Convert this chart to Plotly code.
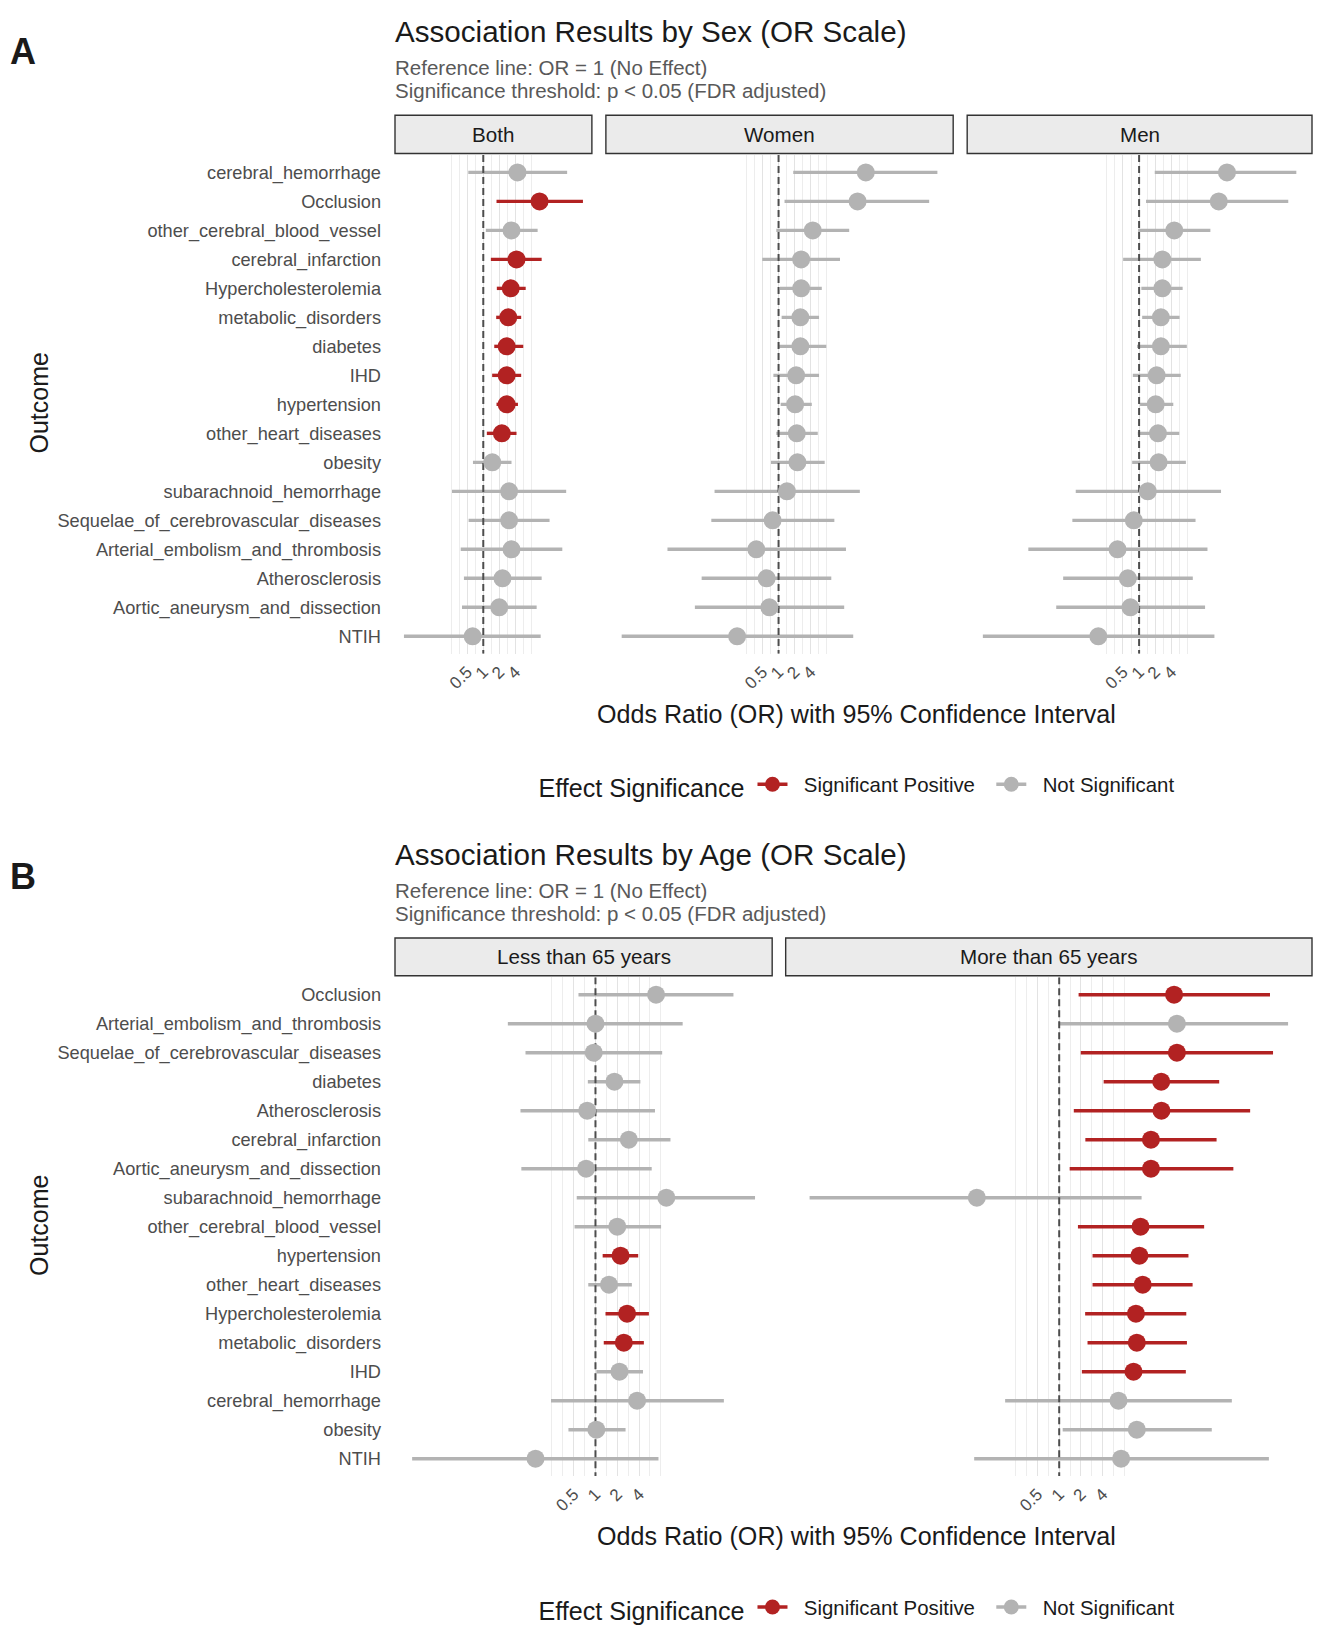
import math
import plotly.graph_objects as go

W, H = 1325, 1645
FONT = "Liberation Sans"
RED = "#B22222"
GREY = "#B3B3B3"

# ---------------- Data: estimates and 95% CI on the log2(OR) scale ----
A_outcomes = ["cerebral_hemorrhage", "Occlusion", "other_cerebral_blood_vessel", "cerebral_infarction",
              "Hypercholesterolemia", "metabolic_disorders", "diabetes", "IHD", "hypertension",
              "other_heart_diseases", "obesity", "subarachnoid_hemorrhage",
              "Sequelae_of_cerebrovascular_diseases", "Arterial_embolism_and_thrombosis",
              "Atherosclerosis", "Aortic_aneurysm_and_dissection", "NTIH"]
A_strips = ["Both", "Women", "Men"]

both_est = [2.12, 3.49, 1.75, 2.06, 1.70, 1.55, 1.45, 1.45, 1.45, 1.15, 0.56, 1.60, 1.60, 1.75, 1.19, 0.99, -0.66]
both_lo = [-0.93, 0.82, 0.16, 0.47, 0.84, 0.80, 0.68, 0.55, 0.82, 0.22, -0.64, -1.94, -0.91, -1.40, -1.20, -1.32, -4.92]
both_hi = [5.20, 6.18, 3.37, 3.62, 2.63, 2.35, 2.48, 2.35, 2.15, 2.06, 1.75, 5.14, 4.11, 4.90, 3.62, 3.31, 3.56]
both_sig = [0, 1, 0, 1, 1, 1, 1, 1, 1, 1, 0, 0, 0, 0, 0, 0, 0]

women_est = [5.41, 4.90, 2.12, 1.40, 1.40, 1.35, 1.35, 1.09, 1.03, 1.13, 1.17, 0.52, -0.37, -1.38, -0.74, -0.57, -2.57]
women_lo = [0.91, 0.37, -0.14, -1.01, 0.09, 0.19, 0.00, -0.32, 0.13, -0.14, -0.47, -3.97, -4.17, -6.89, -4.77, -5.19, -9.73]
women_hi = [9.85, 9.34, 4.38, 3.81, 2.68, 2.51, 2.96, 2.51, 2.06, 2.43, 2.86, 5.04, 3.46, 4.18, 3.27, 4.07, 4.63]
women_sig = [0] * 17

men_est = [5.45, 4.94, 2.18, 1.44, 1.44, 1.35, 1.35, 1.09, 1.03, 1.17, 1.21, 0.54, -0.33, -1.34, -0.70, -0.54, -2.53]
men_lo = [0.97, 0.43, -0.06, -0.99, 0.14, 0.19, -0.13, -0.39, 0.06, -0.08, -0.43, -3.93, -4.14, -6.87, -4.71, -5.14, -9.69]
men_hi = [9.75, 9.25, 4.42, 3.83, 2.70, 2.51, 2.96, 2.58, 2.12, 2.49, 2.90, 5.08, 3.50, 4.24, 3.33, 4.09, 4.67]
men_sig = [0] * 17

B_outcomes = ["Occlusion", "Arterial_embolism_and_thrombosis", "Sequelae_of_cerebrovascular_diseases",
              "diabetes", "Atherosclerosis", "cerebral_infarction", "Aortic_aneurysm_and_dissection",
              "subarachnoid_hemorrhage", "other_cerebral_blood_vessel", "hypertension",
              "other_heart_diseases", "Hypercholesterolemia", "metabolic_disorders", "IHD",
              "cerebral_hemorrhage", "obesity", "NTIH"]
B_strips = ["Less than 65 years", "More than 65 years"]

lt65_est = [2.78, 0.00, -0.08, 0.87, -0.38, 1.53, -0.43, 3.25, 1.00, 1.15, 0.62, 1.45, 1.30, 1.10, 1.91, 0.04, -2.75]
lt65_lo = [-0.78, -4.02, -3.21, -0.35, -3.44, -0.33, -3.40, -0.86, -0.96, 0.33, -0.33, 0.46, 0.38, 0.04, -2.04, -1.24, -8.41]
lt65_hi = [6.33, 4.00, 3.06, 2.06, 2.73, 3.44, 2.58, 7.32, 3.01, 1.96, 1.67, 2.45, 2.22, 2.18, 5.89, 1.38, 2.89]
lt65_sig = [0, 0, 0, 0, 0, 0, 0, 0, 0, 1, 0, 1, 1, 0, 0, 0, 0]

gt65_est = [5.27, 5.40, 5.40, 4.68, 4.69, 4.21, 4.21, -3.78, 3.73, 3.68, 3.83, 3.52, 3.56, 3.41, 2.72, 3.56, 2.84]
gt65_lo = [0.89, 0.00, 0.99, 2.04, 0.67, 1.20, 0.48, -11.45, 0.86, 1.53, 1.53, 1.19, 1.30, 1.04, -2.48, 0.16, -3.90]
gt65_hi = [9.67, 10.50, 9.81, 7.34, 8.76, 7.22, 7.99, 3.78, 6.65, 5.93, 6.12, 5.83, 5.86, 5.81, 7.92, 7.00, 9.62]
gt65_sig = [1, 0, 1, 1, 1, 1, 1, 0, 1, 1, 1, 1, 1, 1, 0, 0, 0]

sig_names = {1: "\u00a0\u00a0Significant Positive\u00a0\u00a0", 0: "\u00a0\u00a0Not Significant"}
sig_colors = {1: RED, 0: GREY}
x_tick_vals = [0.5, 1, 2, 4]
x_tick_text = ["0.5", "1", "2", "4"]
minor_grid_log2 = [-2, -1.5, -0.5, 0.5, 1.5, 2.5, 3]

fig = go.Figure()
shapes, annotations = [], []
LOG10_2 = math.log10(2)
PAD_Y = 0.6


def px(x):
    return x / W


def py(y):
    return 1 - y / H


def add_row(panels, strips, outcomes, left, right, gap, top, bottom, strip_top, axis_start, legend_id):
    n = len(outcomes)
    spans = []
    for est, lo, hi, sig in panels:
        a, b = min(lo), max(hi)
        pad = 0.05 * (b - a)
        spans.append((a - pad, b + pad))
    total = sum(b - a for a, b in spans)
    scale = (right - left - gap * (len(panels) - 1)) / total
    x0 = left
    for k, ((est, lo, hi, sig), (a, b), label) in enumerate(zip(panels, spans, strips)):
        idx = axis_start + k
        xname = "x" if idx == 1 else f"x{idx}"
        yname = "y" if idx == 1 else f"y{idx}"
        x1 = x0 + (b - a) * scale
        # CI segments
        for flag in (0, 1):
            xs, ys = [], []
            for i, (l, h, s) in enumerate(zip(lo, hi, sig)):
                if s == flag:
                    xs += [2 ** l, 2 ** h, None]
                    ys += [i, i, None]
            if xs:
                fig.add_trace(go.Scatter(x=xs, y=ys, mode="lines", xaxis=xname, yaxis=yname,
                                         line=dict(color=sig_colors[flag], width=3.4),
                                         showlegend=False, hoverinfo="skip"))
        # reference line OR = 1
        fig.add_trace(go.Scatter(x=[1, 1], y=[-PAD_Y, n - 1 + PAD_Y], mode="lines",
                                 xaxis=xname, yaxis=yname,
                                 line=dict(color="#4D4D4D", width=2, dash="7px,4px"),
                                 showlegend=False, hoverinfo="skip"))
        for flag in (0, 1):
            xs = [2 ** e for e, s in zip(est, sig) if s == flag]
            ys = [i for i, s in enumerate(sig) if s == flag]
            if xs:
                fig.add_trace(go.Scatter(x=xs, y=ys, mode="markers", xaxis=xname, yaxis=yname,
                                         marker=dict(color=sig_colors[flag], size=18, line=dict(width=0)),
                                         showlegend=False))
        if k == 0:
            for flag in (1, 0):
                fig.add_trace(go.Scatter(x=[None], y=[None], mode="lines+markers", xaxis=xname, yaxis=yname,
                                         name=sig_names[flag], legend=legend_id,
                                         line=dict(color=sig_colors[flag], width=3.4),
                                         marker=dict(color=sig_colors[flag], size=15)))
        xa = dict(type="log", domain=[px(x0), px(x1)], range=[a * LOG10_2, b * LOG10_2],
                  anchor=yname, tickmode="array", tickvals=x_tick_vals, ticktext=x_tick_text,
                  tickangle=-45, tickfont=dict(size=17, color="#4D4D4D", family=FONT),
                  showgrid=True, gridcolor="#E3E3E3", gridwidth=1.1, zeroline=False, showline=False,
                  ticks="", automargin=False, ticklabelstandoff=4,
                  minor=dict(tickmode="array", tickvals=[2 ** v for v in minor_grid_log2],
                             showgrid=True, gridcolor="#EDEDED", gridwidth=0.9, ticks=""))
        ya = dict(domain=[py(bottom), py(top)], range=[n - 1 + PAD_Y, -PAD_Y], anchor=xname,
                  tickmode="array", tickvals=list(range(n)), ticktext=outcomes,
                  showticklabels=(k == 0), tickfont=dict(size=18.2, color="#4D4D4D", family=FONT),
                  showgrid=False, zeroline=False, showline=False, ticks="", automargin=False,
                  ticklabelstandoff=13)
        fig.update_layout(**{("xaxis" if idx == 1 else f"xaxis{idx}"): xa,
                             ("yaxis" if idx == 1 else f"yaxis{idx}"): ya})
        shapes.append(dict(type="rect", xref="paper", yref="paper", x0=px(x0), x1=px(x1),
                           y0=py(top - 1.5), y1=py(strip_top), fillcolor="#EBEBEB",
                           line=dict(color="#333333", width=1.4), layer="above"))
        annotations.append(dict(text=label, xref="paper", yref="paper", x=px((x0 + x1) / 2),
                                y=py((strip_top + top - 1.5) / 2), showarrow=False,
                                font=dict(size=20.6, color="#1A1A1A", family=FONT),
                                xanchor="center", yanchor="middle"))
        x0 = x1 + gap


def add_texts(letter, title, sub1, sub2, y_letter, y_title, y_sub1, y_sub2, y_outcome, y_xtitle):
    annotations.append(dict(text=f"<b>{letter}</b>", xref="paper", yref="paper", x=px(0), y=py(y_letter),
                            xanchor="left", yanchor="middle", showarrow=False,
                            font=dict(size=36, color="#1A1A1A", family=FONT)))
    annotations.append(dict(text=title, xref="paper", yref="paper", x=px(385), y=py(y_title),
                            xanchor="left", yanchor="middle", showarrow=False,
                            font=dict(size=29.6, color="#1A1A1A", family=FONT)))
    for t, yy in ((sub1, y_sub1), (sub2, y_sub2)):
        annotations.append(dict(text=t, xref="paper", yref="paper", x=px(385), y=py(yy),
                                xanchor="left", yanchor="middle", showarrow=False,
                                font=dict(size=20.5, color="#595959", family=FONT)))
    annotations.append(dict(text="Outcome", xref="paper", yref="paper", x=px(31), y=py(y_outcome),
                            xanchor="center", yanchor="middle", showarrow=False, textangle=-90,
                            font=dict(size=25, color="#1A1A1A", family=FONT)))
    annotations.append(dict(text="Odds Ratio (OR) with 95% Confidence Interval", xref="paper", yref="paper",
                            x=px(848), y=py(y_xtitle), xanchor="center", yanchor="middle",
                            showarrow=False, font=dict(size=25.1, color="#1A1A1A", family=FONT)))


SUB1 = "Reference line: OR = 1 (No Effect)"
SUB2 = "Significance threshold: p < 0.05 (FDR adjusted)"

add_row([(both_est, both_lo, both_hi, both_sig), (women_est, women_lo, women_hi, women_sig),
         (men_est, men_lo, men_hi, men_sig)], A_strips, A_outcomes,
        left=387, right=1304, gap=14, top=147, bottom=645.7, strip_top=107.3, axis_start=1, legend_id="legend")
add_row([(lt65_est, lt65_lo, lt65_hi, lt65_sig), (gt65_est, gt65_lo, gt65_hi, gt65_sig)], B_strips, B_outcomes,
        left=387, right=1304, gap=13.5, top=969.3, bottom=1468.1, strip_top=930, axis_start=4, legend_id="legend2")

add_texts("A", "Association Results by Sex (OR Scale)", SUB1, SUB2, 44, 23.1, 59.8, 82.9, 395.5, 706)
add_texts("B", "Association Results by Age (OR Scale)", SUB1, SUB2, 868.6, 846.5, 882.2, 905.3, 1218, 1528.4)

legend_common = dict(orientation="h", xanchor="center", yanchor="middle", bgcolor="rgba(0,0,0,0)",
                     font=dict(size=20.4, color="#1A1A1A", family=FONT), itemwidth=30,
                     title=dict(text="Effect Significance", side="left",
                                font=dict(size=25.1, color="#1A1A1A", family=FONT)))
fig.update_layout(
    width=W, height=H, margin=dict(l=0, r=0, t=0, b=0),
    paper_bgcolor="white", plot_bgcolor="white",
    font=dict(family=FONT, color="#1A1A1A"),
    shapes=shapes, annotations=annotations,
    legend=dict(x=px(850), y=py(778), **legend_common),
    legend2=dict(x=px(850), y=py(1600.8), **legend_common),
)

fig.write_html("out.html")
